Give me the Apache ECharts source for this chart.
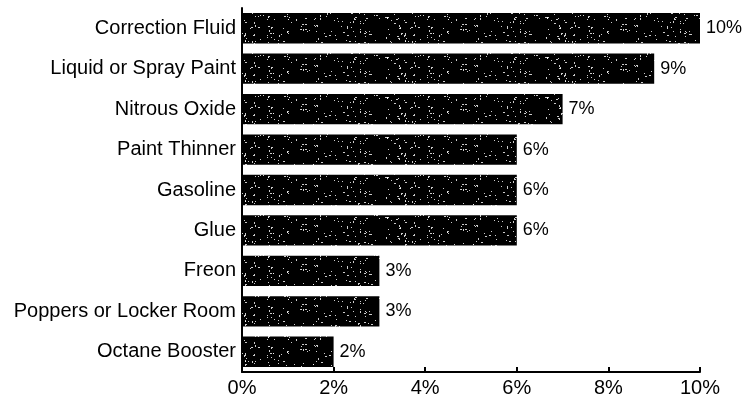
<!DOCTYPE html>
<html>
<head>
<meta charset="utf-8">
<script src="https://cdn.jsdelivr.net/npm/echarts@6/dist/echarts.min.js"></script>
<style>html,body{margin:0;padding:0;background:#fff;}#c{width:755px;height:401px;}</style>
</head>
<body>
<div id="c"></div>
<script>
var categories = ["Correction Fluid","Liquid or Spray Paint","Nitrous Oxide","Paint Thinner","Gasoline","Glue","Freon","Poppers or Locker Room","Octane Booster"];
var values = [10,9,7,6,6,6,3,3,2];
var xTicks = [0,2,4,6,8,10];

// speckle texture (deterministic)
var tex = document.createElement('canvas');
tex.width = 160; tex.height = 40;
var g = tex.getContext('2d');
g.fillStyle = '#000'; g.fillRect(0,0,160,40);
var s = 12345;
function rnd(){ s = (s * 1103515245 + 12345) & 0x7fffffff; return s / 0x7fffffff; }
g.fillStyle = 'rgba(255,255,255,0.8)';
for (var i = 0; i < 200; i++) {
  var x = rnd()*160, y = rnd()*40;
  g.fillRect(Math.floor(x), Math.floor(y), 1, 1);
  if (rnd() < 0.3) g.fillRect(Math.floor(x)+1, Math.floor(y), 1, 1);
  if (rnd() < 0.2) g.fillRect(Math.floor(x), Math.floor(y)+1, 1, 1);
}

var chart = echarts.init(document.getElementById('c'), null, {renderer:'canvas'});
chart.setOption({
  animation:false,
  grid:{left:242, right:55, top:8, bottom:29, containLabel:false},
  xAxis:{type:'value', min:0, max:10, interval:2,
    axisLine:{show:true, lineStyle:{color:'#000', width:2}},
    axisTick:{show:true, inside:true, length:5, lineStyle:{color:'#000', width:2}},
    splitLine:{show:false},
    axisLabel:{color:'#000', fontSize:20, fontFamily:'Liberation Sans, Arial, sans-serif', margin:6, formatter:'{value}%'}
  },
  yAxis:{type:'category', data:categories, inverse:true,
    axisLine:{show:true, lineStyle:{color:'#000', width:2}},
    axisTick:{show:false},
    axisLabel:{color:'#000', fontSize:20, fontFamily:'Liberation Sans, Arial, sans-serif', margin:6}
  },
  series:[{type:'bar', data:values, barCategoryGap:'25%',
    itemStyle:{color:{image:tex, repeat:'repeat'}},
    label:{show:true, position:'right', distance:6, color:'#000', fontSize:18, fontFamily:'Liberation Sans, Arial, sans-serif', formatter:'{c}%'}
  }]
});
</script>
</body>
</html>
